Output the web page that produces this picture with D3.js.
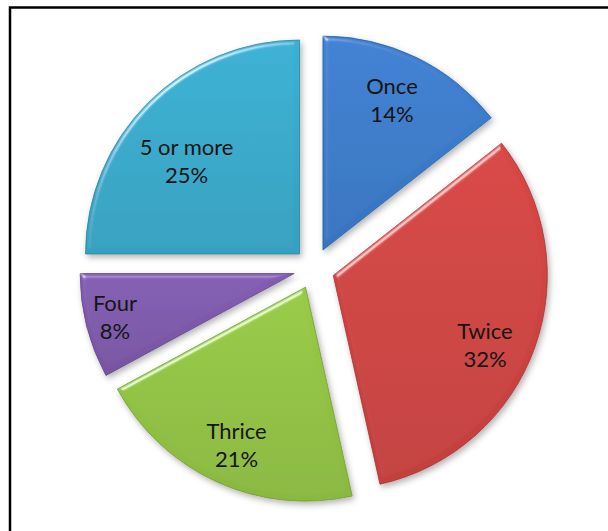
<!DOCTYPE html>
<html>
<head>
<meta charset="utf-8">
<script src="https://cdn.jsdelivr.net/npm/d3@7"></script>
<style>
    body { margin: 0; background: #fff; }
    svg { display: block; }
    .slice-label { font-family: Lato, "Liberation Sans", sans-serif; font-size: 22px; fill: #151515; }
</style>
</head>
<body>
<div id="chartContainer"></div>
<script>
// categories, clockwise from 12 o'clock
const categories = ["Once", "Twice", "Thrice", "Four", "5 or more"];
// share of answers (percent)
const values = [14.4, 32.1, 20.6, 7.9, 25.0];
const sliceColors = ["#3b7ccc", "#d04442", "#93c443", "#7f5aad", "#37abcd"];

const ctx = {
    SVG_W: 608,
    SVG_H: 531,
    cx: 314,
    cy: 268.5,
    radius: 214,
    explode: 20.5,
    // label spot from the slice tip: share of the radius, and a small turn off the bisector (deg)
    labelFrac: [0.768, 0.782, 0.809, 0.862, 0.682],
    labelTurn: [-1.1, 5.4, -1.0, 0.4, -5.7],
    lineGap: 28
};

function createViz() {
    const svg = d3.select("#chartContainer").append("svg")
        .attr("width", ctx.SVG_W)
        .attr("height", ctx.SVG_H);

    addDefs(svg);

    // frame (only left and top edges are visible in the crop)
    svg.append("rect")
        .attr("x", 10)
        .attr("y", 7.5)
        .attr("width", 700)
        .attr("height", 700)
        .attr("fill", "none")
        .attr("stroke", "#000")
        .attr("stroke-width", 2.5);

    addPie(svg);
}

function addDefs(svg) {
    const defs = svg.append("defs");

    // vertical gradient for every slice, a bit lighter on top
    sliceColors.forEach((c, i) => {
        const g = defs.append("linearGradient")
            .attr("id", `grad-${i}`)
            .attr("x1", 0).attr("y1", 0)
            .attr("x2", 0).attr("y2", 1);
        g.append("stop").attr("offset", "0%").attr("stop-color", d3.color(c).brighter(0.1));
        g.append("stop").attr("offset", "100%").attr("stop-color", d3.color(c).darker(0.18));
    });

    // soft bevel + drop shadow
    const f = defs.append("filter")
        .attr("id", "bevel")
        .attr("x", "-10%").attr("y", "-10%")
        .attr("width", "125%").attr("height", "125%");
    f.append("feGaussianBlur").attr("in", "SourceAlpha").attr("stdDeviation", 2.5).attr("result", "blur");
    const spec = f.append("feSpecularLighting")
        .attr("in", "blur")
        .attr("surfaceScale", 3)
        .attr("specularConstant", 0.55)
        .attr("specularExponent", 45)
        .attr("lighting-color", "#ffffff")
        .attr("result", "spec");
    spec.append("feDistantLight").attr("azimuth", 235).attr("elevation", 40);
    f.append("feComposite").attr("in", "spec").attr("in2", "SourceAlpha").attr("operator", "in").attr("result", "specIn");
    f.append("feComposite").attr("in", "SourceGraphic").attr("in2", "specIn")
        .attr("operator", "arithmetic")
        .attr("k1", 0).attr("k2", 1).attr("k3", 1).attr("k4", 0)
        .attr("result", "lit");
    f.append("feGaussianBlur").attr("in", "SourceAlpha").attr("stdDeviation", 3).attr("result", "sblur");
    f.append("feOffset").attr("in", "sblur").attr("dx", 2).attr("dy", 3).attr("result", "soff");
    f.append("feFlood").attr("flood-color", "#000").attr("flood-opacity", 0.3).attr("result", "sc");
    f.append("feComposite").attr("in", "sc").attr("in2", "soff").attr("operator", "in").attr("result", "shadow");
    const m = f.append("feMerge");
    m.append("feMergeNode").attr("in", "shadow");
    m.append("feMergeNode").attr("in", "lit");
}

function addPie(svg) {
    const data = categories.map((c, i) => ({ category: c, value: values[i], index: i }));
    const total = d3.sum(values);
    const pct = d3.format(".0%");

    const pie = d3.pie()
        .value(d => d.value)
        .sort(null)
        .startAngle(0)
        .endAngle(2 * Math.PI);

    const arc = d3.arc()
        .innerRadius(0)
        .outerRadius(ctx.radius);

    const arcs = pie(data);

    const g = svg.append("g")
        .attr("transform", `translate(${ctx.cx},${ctx.cy})`);

    const slices = g.selectAll(".slice")
        .data(arcs)
        .enter()
        .append("g")
        .attr("class", "slice")
        .attr("transform", d => {
            const mid = (d.startAngle + d.endAngle) / 2;
            return `translate(${ctx.explode * Math.sin(mid)},${-ctx.explode * Math.cos(mid)})`;
        });

    slices.append("path")
        .attr("d", arc)
        .attr("fill", d => `url(#grad-${d.index})`)
        .attr("stroke", d => d3.color(sliceColors[d.index]).darker(0.7))
        .attr("stroke-width", 0.8)
        .attr("stroke-linejoin", "round")
        .attr("filter", "url(#bevel)");

    const labels = slices.append("text")
        .attr("class", "slice-label")
        .attr("text-anchor", "middle")
        .attr("transform", d => {
            const a = (d.startAngle + d.endAngle) / 2 + ctx.labelTurn[d.index] * Math.PI / 180;
            const r = ctx.radius * ctx.labelFrac[d.index];
            return `translate(${r * Math.sin(a)},${-r * Math.cos(a)})`;
        });

    labels.append("tspan")
        .attr("x", 0)
        .attr("y", -ctx.lineGap / 2 + 7)
        .text(d => d.data.category);

    labels.append("tspan")
        .attr("x", 0)
        .attr("y", ctx.lineGap / 2 + 7)
        .text(d => pct(d.data.value / total));
}

createViz();
</script>
</body>
</html>
